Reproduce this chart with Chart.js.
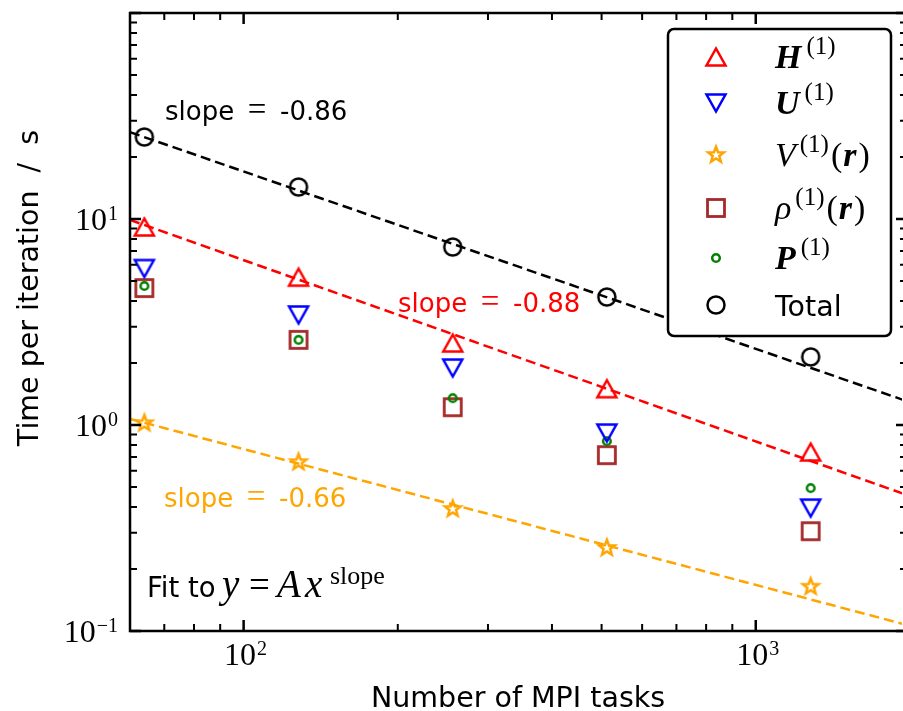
<!DOCTYPE html>
<html>
<head>
<meta charset="utf-8">
<title>Strong scaling</title>
<script src="https://cdn.jsdelivr.net/npm/chart.js@4.4.0/dist/chart.umd.min.js"></script>
<style>
  html, body { margin: 0; padding: 0; background: #fff; overflow: hidden; width: 903px; height: 711px; }
  #wrap { width: 903px; height: 711px; overflow: hidden; }
  #scaling-chart { display: block; }
</style>
</head>
<body>
<div id="wrap"><canvas id="scaling-chart" width="903" height="711"></canvas></div>
<script>
// timings per iteration (s) vs number of MPI tasks
const tasks = [64, 128, 256, 512, 1280];
const hamiltonian = [9.15, 5.22, 2.50, 1.50, 0.739];
const unitary = [5.75, 3.42, 1.89, 0.914, 0.395];
const potential = [1.02, 0.66, 0.391, 0.253, 0.164];
const density = [4.62, 2.59, 1.22, 0.714, 0.305];
const projector = [4.73, 2.59, 1.35, 0.835, 0.494];
const total = [25.0, 14.3, 7.31, 4.18, 2.14];

// power-law fits, end points over the x range
const fitTasks = [60, 2000];
const totalFit = [26.4, 1.29];
const hamiltonianFit = [9.9, 0.452];
const potentialFit = [1.07, 0.106];
const slopeLabels = ["-0.86", "-0.88", "-0.66"];

// visible x window (the right spine sits just past the canvas edge)
const xMin = 60, xMax = 1930;
const yMin = 0.1, yMax = 100;
const xDecades = [1, 2, 3];
const yDecades = [-1, 0, 1, 2];

const SANS = '"DejaVu Sans"';
const SERIF = '"Liberation Serif"';

function makeMarker(size, draw) {
  const c = document.createElement("canvas");
  c.width = size; c.height = size;
  const ctx = c.getContext("2d");
  ctx.translate(size / 2, size / 2);
  ctx.lineJoin = "miter";
  draw(ctx);
  return c;
}

const triUp = makeMarker(28, function (ctx) {
  ctx.beginPath();
  ctx.moveTo(0, -8.5); ctx.lineTo(-9.5, 8.5); ctx.lineTo(9.5, 8.5); ctx.closePath();
  ctx.strokeStyle = "#ff0000"; ctx.lineWidth = 2.5; ctx.stroke();
});
const triDown = makeMarker(28, function (ctx) {
  ctx.beginPath();
  ctx.moveTo(0, 8.5); ctx.lineTo(-9.5, -8.5); ctx.lineTo(9.5, -8.5); ctx.closePath();
  ctx.strokeStyle = "#0000ff"; ctx.lineWidth = 2.5; ctx.stroke();
});
const square = makeMarker(28, function (ctx) {
  ctx.strokeStyle = "#a52a2a"; ctx.lineWidth = 2.8;
  ctx.strokeRect(-8.5, -8.5, 17, 17);
});
const dot = makeMarker(16, function (ctx) {
  ctx.beginPath(); ctx.arc(0, 0, 3.8, 0, Math.PI * 2);
  ctx.strokeStyle = "#008000"; ctx.lineWidth = 2.5; ctx.stroke();
});
const ring = makeMarker(28, function (ctx) {
  ctx.beginPath(); ctx.arc(0, 0, 8.5, 0, Math.PI * 2);
  ctx.strokeStyle = "#000"; ctx.lineWidth = 2.5; ctx.stroke();
});
const star = makeMarker(24, function (ctx) {
  ctx.beginPath();
  for (let i = 0; i < 10; i++) {
    const r = i % 2 === 0 ? 8.3 : 3.5;
    const a = -Math.PI / 2 + i * Math.PI / 5;
    const px = r * Math.cos(a), py = r * Math.sin(a);
    if (i === 0) ctx.moveTo(px, py); else ctx.lineTo(px, py);
  }
  ctx.closePath();
  ctx.strokeStyle = "#ffa500"; ctx.lineWidth = 2.5; ctx.stroke();
});

function points(ys) {
  return tasks.map((t, i) => ({ x: t, y: ys[i] }));
}
function fitLine(ys) {
  return fitTasks.map((t, i) => ({ x: t, y: ys[i] }));
}
function markerSet(label, ys, marker) {
  return { type: "scatter", label: label, data: points(ys), pointStyle: marker,
    pointRadius: 9, showLine: false };
}
function fitSet(ys, color) {
  return { type: "line", data: fitLine(ys), borderColor: color, borderWidth: 2.5,
    borderDash: [10, 5], pointRadius: 0, fill: false, tension: 0 };
}

// draw a row of text pieces, each {t, font, dy, gap, at}
function drawRuns(ctx, x, y, runs, color) {
  ctx.fillStyle = color;
  ctx.textBaseline = "alphabetic";
  ctx.textAlign = "left";
  runs.forEach(function (r) {
    ctx.font = r.font;
    if (r.at !== undefined) x = r.at;
    if (r.gap) x += r.gap;
    ctx.fillText(r.t, x, y + (r.dy || 0));
    x += ctx.measureText(r.t).width;
  });
  return x;
}
function runsWidth(ctx, runs) {
  let w = 0;
  runs.forEach(function (r) { ctx.font = r.font; w += ctx.measureText(r.t).width + (r.gap || 0); });
  return w;
}

function slopeLabel(ctx, x, y, value, color) {
  ctx.fillStyle = color;
  ctx.textAlign = "left";
  ctx.textBaseline = "alphabetic";
  ctx.font = "26px " + SANS;
  ctx.fillText("slope", x, y);
  ctx.textAlign = "center";
  ctx.font = "33px " + SERIF;
  ctx.fillText("=", x + 92, y);
  ctx.textAlign = "left";
  ctx.font = "26px " + SANS;
  ctx.fillText(value, x + 115, y);
}

function powerLabel(exp) {
  return [
    { t: "10", font: "32px " + SERIF },
    { t: exp < 0 ? "\u2212" + (-exp) : String(exp), font: "20px " + SERIF, dy: -10, gap: 1 }
  ];
}

const framePlugin = {
  id: "frame",
  afterDraw(chart) {
    const ctx = chart.ctx, area = chart.chartArea;
    const xs = chart.scales.x, ys = chart.scales.y;
    const left = area.left, top = area.top, bottom = area.bottom;
    const right = area.right + 5;
    ctx.save();

    // ticks on all four sides, pointing inward
    ctx.strokeStyle = "#000";
    xDecades.forEach(function (k) {
      for (let m = 1; m <= 9; m++) {
        const v = m * Math.pow(10, k);
        if (v < xMin || v > xMax) continue;
        const px = xs.getPixelForValue(v);
        const len = m === 1 ? 11 : 7;
        ctx.lineWidth = m === 1 ? 2.5 : 2;
        ctx.beginPath();
        ctx.moveTo(px, bottom); ctx.lineTo(px, bottom - len);
        ctx.moveTo(px, top); ctx.lineTo(px, top + len);
        ctx.stroke();
      }
    });
    yDecades.forEach(function (k) {
      for (let m = 1; m <= 9; m++) {
        const v = m * Math.pow(10, k);
        if (v < yMin * 0.999 || v > yMax * 1.001) continue;
        const py = ys.getPixelForValue(v);
        const len = m === 1 ? 11 : 7;
        ctx.lineWidth = m === 1 ? 2.5 : 2;
        ctx.beginPath();
        ctx.moveTo(left, py); ctx.lineTo(left + len, py);
        ctx.moveTo(right, py); ctx.lineTo(right - len, py);
        ctx.stroke();
      }
    });

    ctx.lineWidth = 2.5;
    ctx.strokeRect(left, top, right - left, bottom - top);

    // decade labels
    [2, 3].forEach(function (k) {
      const runs = powerLabel(k);
      const w = runsWidth(ctx, runs);
      const px = xs.getPixelForValue(Math.pow(10, k));
      drawRuns(ctx, px - w / 2 + 2, bottom + 34, runs, "#000");
    });
    [-1, 0, 1].forEach(function (k) {
      const runs = powerLabel(k);
      const w = runsWidth(ctx, runs);
      const py = ys.getPixelForValue(Math.pow(10, k));
      drawRuns(ctx, left - 12 - w, py + 11, runs, "#000");
    });

    // axis titles
    ctx.fillStyle = "#000";
    ctx.font = "28.5px " + SANS;
    ctx.textAlign = "center";
    ctx.textBaseline = "alphabetic";
    ctx.fillText("Number of MPI tasks", 518, 707);
    ctx.save();
    ctx.translate(38, 288);
    ctx.rotate(-Math.PI / 2);
    ctx.fillText("Time per iteration  /  s", 0, 0);
    ctx.restore();

    // fit annotations
    slopeLabel(ctx, 165, 120, slopeLabels[0], "#000");
    slopeLabel(ctx, 398, 312, slopeLabels[1], "#ff0000");
    slopeLabel(ctx, 164, 507, slopeLabels[2], "#ffa500");
    drawRuns(ctx, 147, 597, [
      { t: "Fit to", font: "27.5px " + SANS },
      { t: "y", font: "italic 39px " + SERIF, at: 222 },
      { t: "=", font: "37px " + SERIF, at: 249 },
      { t: "A", font: "italic 39px " + SERIF, at: 277 },
      { t: "x", font: "italic 39px " + SERIF, at: 305 },
      { t: "slope", font: "26px " + SERIF, dy: -13, at: 330 }
    ], "#000");

    // legend
    const lx = 668, ly = 29, lw = 223, lh = 307;
    ctx.beginPath();
    ctx.roundRect(lx, ly, lw, lh, 6);
    ctx.fillStyle = "#fff";
    ctx.fill();
    ctx.lineWidth = 2.5;
    ctx.strokeStyle = "#000";
    ctx.stroke();

    const bi = "italic bold 34px " + SERIF, it = "italic 34px " + SERIF,
      rm = "34px " + SERIF, sup = "25px " + SERIF;
    const rows = [
      { m: triUp, y: 57, runs: [{ t: "H", font: bi }, { t: "(1)", font: sup, dy: -14, gap: 5 }] },
      { m: triDown, y: 103, runs: [{ t: "U", font: bi }, { t: "(1)", font: sup, dy: -14, gap: 5 }] },
      { m: star, y: 155, runs: [{ t: "V", font: it }, { t: "(1)", font: sup, dy: -14, gap: 4 },
        { t: "(", font: rm, gap: 2 }, { t: "r", font: bi, gap: 1 }, { t: ")", font: rm, gap: 2 }] },
      { m: square, y: 208, runs: [{ t: "\u03c1", font: it }, { t: "(1)", font: sup, dy: -14, gap: 4 },
        { t: "(", font: rm, gap: 2 }, { t: "r", font: bi, gap: 1 }, { t: ")", font: rm, gap: 2 }] },
      { m: dot, y: 258, runs: [{ t: "P", font: bi }, { t: "(1)", font: sup, dy: -14, gap: 5 }] },
      { m: ring, y: 305, runs: [{ t: "Total", font: "28.5px " + SANS }] }
    ];
    rows.forEach(function (r) {
      ctx.drawImage(r.m, 716 - r.m.width / 2, r.y - r.m.height / 2);
      drawRuns(ctx, 775, r.y + 11, r.runs, "#000");
    });

    ctx.restore();
  }
};

new Chart(document.getElementById("scaling-chart"), {
  data: {
    datasets: [
      markerSet("Total", total, ring),
      markerSet("H(1)", hamiltonian, triUp),
      markerSet("U(1)", unitary, triDown),
      markerSet("P(1)", projector, dot),
      markerSet("V(1)(r)", potential, star),
      markerSet("rho(1)(r)", density, square),
      fitSet(totalFit, "#000000"),
      fitSet(hamiltonianFit, "#ff0000"),
      fitSet(potentialFit, "#ffa500")
    ]
  },
  options: {
    responsive: false,
    animation: false,
    devicePixelRatio: 1,
    layout: { autoPadding: false, padding: { left: 130, top: 13, right: 1, bottom: 80 } },
    plugins: {
      legend: { display: false },
      tooltip: { enabled: false }
    },
    scales: {
      x: { type: "logarithmic", min: xMin, max: xMax, display: false },
      y: { type: "logarithmic", min: yMin, max: yMax, display: false }
    }
  },
  plugins: [framePlugin]
});
</script>
</body>
</html>
